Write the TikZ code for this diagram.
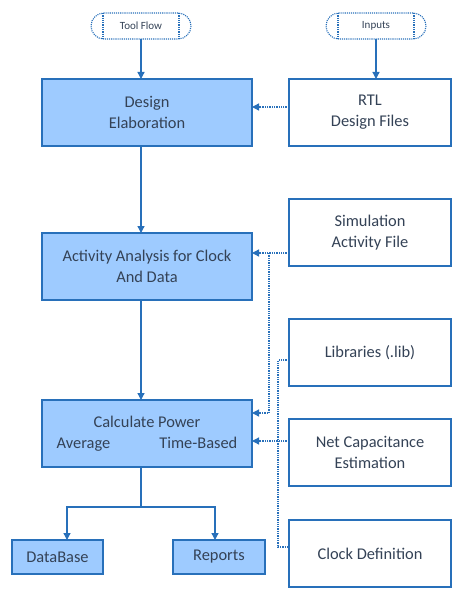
\documentclass[tikz,border=0pt]{standalone}
\usepackage{fontspec}
\setmainfont{Carlito}
\usepackage{tikz}
\usetikzlibrary{arrows.meta, positioning, calc}
\definecolor{flowblue}{RGB}{40,112,186}
\definecolor{flowfill}{RGB}{158,203,255}
\definecolor{flowtext}{RGB}{52,66,86}

\begin{document}
\begin{tikzpicture}[
    x=1pt, y=-1pt,
    node distance=40pt,
    stage/.style={rectangle, draw=flowblue, fill=flowfill, minimum width=210pt, minimum height=67pt, align=center, font=\fontsize{16.4}{21}\selectfont, text=flowtext, line width=1.3pt, inner sep=2pt, outer sep=0pt},
    source/.style={rectangle, draw=flowblue, fill=white, minimum width=162pt, minimum height=67pt, align=center, font=\fontsize{16.4}{21}\selectfont, text=flowtext, line width=1.3pt, inner sep=2pt, outer sep=0pt},
    result/.style={rectangle, draw=flowblue, fill=flowfill, minimum width=91pt, minimum height=34pt, align=center, font=\fontsize{16.4}{21}\selectfont, text=flowtext, line width=1.3pt, inner sep=2pt, outer sep=0pt},
    pill/.style={rectangle, rounded corners=13pt, draw=flowblue, densely dotted, minimum width=100pt, minimum height=26pt, font=\fontsize{11}{13}\selectfont, text=flowtext, line width=1.1pt, outer sep=0pt},
    arrow/.style={-{Triangle[length=7pt, width=7pt]}, line width=1.3pt, flowblue},
    darrow/.style={-{Triangle[length=7pt, width=7pt]}, line width=1.3pt, flowblue, densely dotted},
    dline/.style={line width=1.3pt, flowblue, densely dotted},
]
    \useasboundingbox (0,0) rectangle (458,591);

    % left column
    \node[stage] (elab) at (147,112.5) {Design\\Elaboration};
    \node[stage, below=87pt of elab] (activity) {Activity Analysis for Clock\\And Data};
    \node[stage, below=100pt of activity] (power) {Calculate Power\\Average\hspace{49pt}Time-Based};

    % right column
    \node[source, right=37pt of elab] (rtl) {RTL\\Design Files};
    \node[source, below=53pt of rtl] (sim) {Simulation\\Activity File};
    \node[source, below=53pt of sim] (libs) {Libraries (.lib)};
    \node[source, below=33pt of libs] (netcap) {Net Capacitance\\Estimation};
    \node[source, below=34pt of netcap] (clock) {Clock Definition};

    % terminators
    \node[pill] (toolflow) at (141,26) {Tool Flow};
    \node[pill] (inputs) at (376,26) {Inputs};
    \foreach \p in {toolflow, inputs} {
        \draw[dline, line width=1.1pt] ([xshift=12pt]\p.north west) -- ([xshift=12pt]\p.south west);
        \draw[dline, line width=1.1pt] ([xshift=-12pt]\p.north east) -- ([xshift=-12pt]\p.south east);
    }

    % outputs
    \node[result] (db) at (57.5,557) {DataBase};
    \node[result, minimum width=92pt] (reports) at (219,557) {Reports};

    % main flow
    \draw[arrow] (toolflow) -- (toolflow |- elab.north);
    \draw[arrow] (inputs) -- (inputs |- rtl.north);
    \draw[arrow] (toolflow |- elab.south) -- (toolflow |- activity.north);
    \draw[arrow] (toolflow |- activity.south) -- (toolflow |- power.north);

    \coordinate (split) at (toolflow |- 0,507);
    \draw[line width=1.3pt, flowblue] (toolflow |- power.south) -- (split);
    \draw[arrow] (split) -| ([xshift=9.5pt]db.north);
    \draw[arrow] (split) -| ([xshift=-4pt]reports.north);

    % inputs to the stages
    \draw[darrow] (rtl.west |- 0,107) -- (elab.east |- 0,107);
    \coordinate (simjoin) at (269,253);
    \draw[darrow] (sim.west |- simjoin) -- (activity.east |- simjoin);
    \draw[darrow] (simjoin) |- (power.east |- 0,413);
    \coordinate (libjoin) at (278,360);
    \draw[dline] (libs.west |- libjoin) -- (libjoin) |- (clock.west |- 0,547);
    \draw[darrow] (netcap.west |- 0,441) -- (power.east |- 0,441);
\end{tikzpicture}
\end{document}
